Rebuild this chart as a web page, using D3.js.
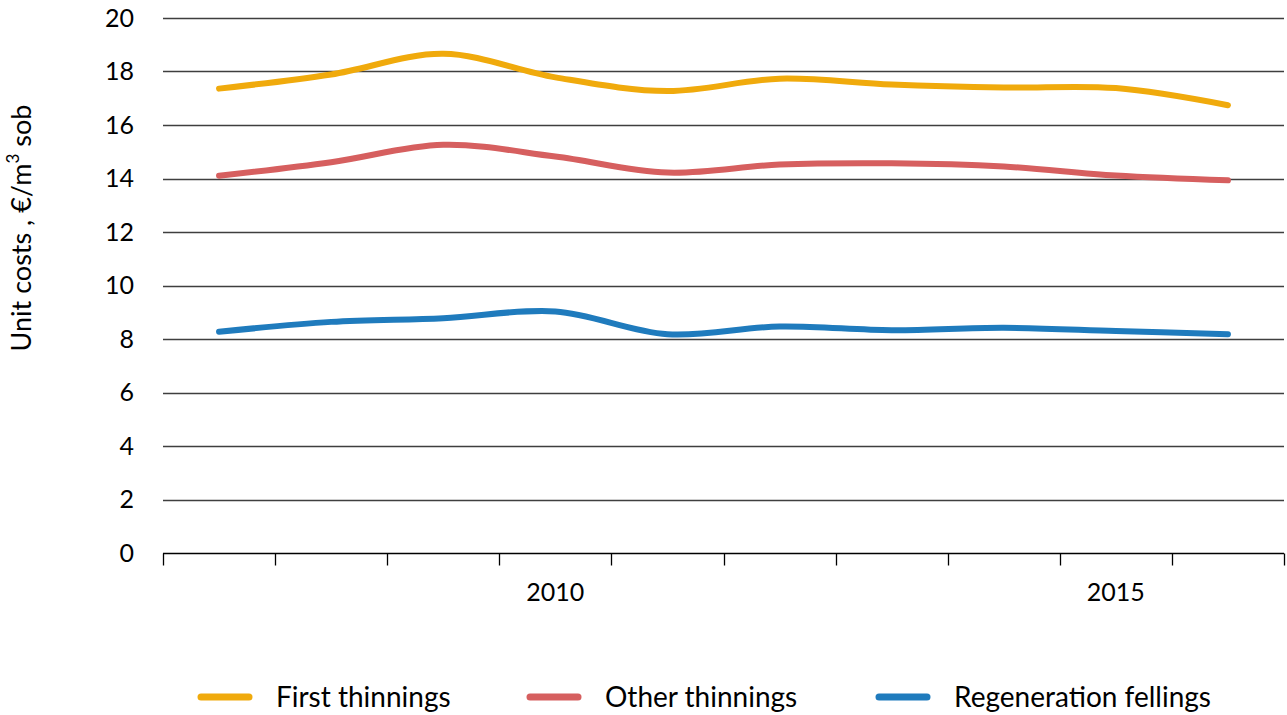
<!DOCTYPE html>
<html>
<head>
  <meta charset="utf-8">
  <style>
    body { margin: 0; background: #fff; }
    text { font-family: Lato, "Open Sans", sans-serif; fill: #000; }
    .grid line { stroke: #3f3f3f; stroke-width: 1.3; }
    .axis--x path, .axis--x line { stroke: #000; stroke-width: 1.3; }
    .line { fill: none; stroke-width: 6; stroke-linecap: round; }
  </style>
  <script src="https://d3js.org/d3.v7.min.js"></script>
</head>
<body>
<script>
  var years = [2007, 2008, 2009, 2010, 2011, 2012, 2013, 2014, 2015, 2016];
  var labelledYears = [2010, 2015];
  var yTicks = [0, 2, 4, 6, 8, 10, 12, 14, 16, 18, 20];

  var seriesNames = ["First thinnings", "Other thinnings", "Regeneration fellings"];
  var seriesColors = ["#f0aa0c", "#d65f5f", "#1f7bbd"];

  var firstThinnings = [17.36, 17.89, 18.66, 17.78, 17.27, 17.73, 17.51, 17.40, 17.38, 16.74];
  var otherThinnings = [14.10, 14.61, 15.26, 14.82, 14.22, 14.52, 14.57, 14.45, 14.11, 13.93];
  var regenFellings  = [8.27, 8.64, 8.78, 9.03, 8.18, 8.47, 8.33, 8.42, 8.30, 8.18];

  var seriesValues = [firstThinnings, otherThinnings, regenFellings];

  var W = 1287, H = 715;
  var margin = {top: 18, right: 3, bottom: 162, left: 163};
  var width = W - margin.left - margin.right,
      height = H - margin.top - margin.bottom;

  var svg = d3.select("body").append("svg")
      .attr("width", W)
      .attr("height", H);

  var g = svg.append("g")
      .attr("transform", "translate(" + margin.left + "," + margin.top + ")");

  var x = d3.scaleBand()
      .domain(years)
      .range([0, width]);

  var y = d3.scaleLinear()
      .domain([0, 20])
      .range([height, 0]);

  // gridlines
  g.append("g")
      .attr("class", "grid")
      .selectAll("line")
      .data(yTicks.filter(function(d) { return d > 0; }))
      .enter().append("line")
      .attr("x1", 0)
      .attr("x2", width)
      .attr("y1", function(d) { return Math.round(y(d)) + 0.5; })
      .attr("y2", function(d) { return Math.round(y(d)) + 0.5; });

  // y tick labels
  g.append("g")
      .selectAll("text")
      .data(yTicks)
      .enter().append("text")
      .attr("x", -29)
      .attr("y", function(d) { return y(d); })
      .attr("dy", "0.35em")
      .attr("text-anchor", "end")
      .attr("font-size", "25px")
      .text(function(d) { return d; });

  // x axis: baseline + ticks at band boundaries
  var xAxis = g.append("g")
      .attr("class", "axis axis--x")
      .attr("transform", "translate(0," + (Math.round(height) + 0.5) + ")");

  xAxis.append("line")
      .attr("x1", 0).attr("x2", width)
      .attr("y1", 0).attr("y2", 0);

  var bounds = years.map(function(d) { return x(d); }).concat([width]);
  xAxis.selectAll(".tick")
      .data(bounds)
      .enter().append("line")
      .attr("class", "tick")
      .attr("x1", function(d) { return Math.round(d) + 0.5; })
      .attr("x2", function(d) { return Math.round(d) + 0.5; })
      .attr("y1", 0)
      .attr("y2", 12);

  xAxis.selectAll(".xlabel")
      .data(labelledYears)
      .enter().append("text")
      .attr("class", "xlabel")
      .attr("x", function(d) { return x(d) + x.bandwidth() / 2; })
      .attr("y", 47)
      .attr("text-anchor", "middle")
      .attr("font-size", "25px")
      .text(function(d) { return d; });

  // y axis title
  var yt = svg.append("text")
      .attr("transform", "translate(31," + (margin.top + 210) + ") rotate(-90)")
      .attr("text-anchor", "middle")
      .attr("font-size", "27px");
  yt.append("tspan").text("Unit costs , €/m");
  yt.append("tspan").attr("font-size", "17px").attr("dy", "-0.7em").text("3");
  yt.append("tspan").attr("dy", "0.45em").text(" sob");

  // lines
  var line = d3.line()
      .x(function(d, i) { return x(years[i]) + x.bandwidth() / 2; })
      .y(function(d) { return y(d); })
      .curve(d3.curveCatmullRom.alpha(0.5));

  g.selectAll(".line")
      .data(seriesValues)
      .enter().append("path")
      .attr("class", "line")
      .attr("stroke", function(d, i) { return seriesColors[i]; })
      .attr("d", line);

  // legend
  var legendX = [198, 527, 876];
  var legend = svg.append("g")
      .selectAll("g")
      .data(seriesNames)
      .enter().append("g")
      .attr("transform", function(d, i) { return "translate(" + legendX[i] + ",697)"; });

  legend.append("line")
      .attr("x1", 3).attr("x2", 51)
      .attr("y1", 0).attr("y2", 0)
      .attr("stroke", function(d, i) { return seriesColors[i]; })
      .attr("stroke-width", 7)
      .attr("stroke-linecap", "round");

  legend.append("text")
      .attr("x", 78)
      .attr("y", 0)
      .attr("dy", "0.35em")
      .attr("font-size", "28px")
      .text(function(d) { return d; });
</script>
</body>
</html>
